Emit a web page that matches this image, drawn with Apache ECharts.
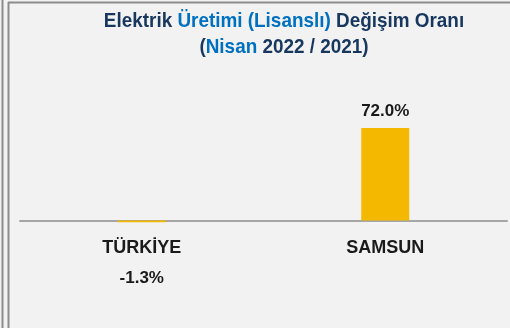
<!DOCTYPE html>
<html>
<head>
<meta charset="utf-8">
<script src="https://cdn.jsdelivr.net/npm/echarts@6/dist/echarts.min.js"></script>
<style>
  html, body { margin: 0; padding: 0; background: #f2f2f2; }
  #chart { width: 510px; height: 328px; }
</style>
</head>
<body>
<div id="chart"></div>
<script>
// Change in licensed electricity generation, April 2022 vs 2021
const regions = ['TÜRKİYE', 'SAMSUN'];
const changePct = [-1.3, 72.0];

const NAVY = '#17375e';
const BLUE = '#0070c0';
const INK = '#1a1a1a';
const FONT = '"Liberation Sans", Arial, sans-serif';

const chart = echarts.init(document.getElementById('chart'), null, { renderer: 'canvas' });

const barData = changePct.map(v => ({
  value: v,
  label: v >= 0
    ? { position: 'top', distance: 8 }
    : { position: 'bottom', distance: 48 }
}));

// title lines are drawn slightly condensed
const titleRich = {
  n: { fill: NAVY, fontFamily: FONT, fontWeight: 'bold', fontSize: 21 },
  b: { fill: BLUE, fontFamily: FONT, fontWeight: 'bold', fontSize: 21 }
};

chart.setOption({
  backgroundColor: '#f2f2f2',
  animation: false,
  // the grid bottom sits on the zero line; the negative bar is drawn unclipped below it
  grid: { left: 20, right: 3, top: 117.7, bottom: 107.5, containLabel: false },
  xAxis: {
    type: 'category',
    data: regions,
    axisLine: { onZero: false, lineStyle: { color: '#a6a6a6', width: 2 } },
    axisTick: { show: false },
    axisLabel: {
      color: INK, fontFamily: FONT, fontWeight: 'bold', fontSize: 18, margin: 19
    }
  },
  yAxis: {
    type: 'value',
    min: 0, max: 80, interval: 20,
    show: false,
    splitLine: { show: false }
  },
  series: [{
    type: 'bar',
    data: barData,
    barWidth: 48,
    clip: false,
    z: 1,
    itemStyle: { color: '#f4b800' },
    label: {
      show: true,
      color: INK, fontFamily: FONT, fontWeight: 'bold', fontSize: 17,
      formatter: p => p.value.toFixed(1) + '%'
    }
  }],
  graphic: [
    // frame lines
    { type: 'line', shape: { x1: 2.5, y1: 0, x2: 2.5, y2: 328 }, style: { stroke: '#8c8c8c', lineWidth: 2 } },
    { type: 'line', shape: { x1: 8.5, y1: 2, x2: 8.5, y2: 328 }, style: { stroke: '#8c8c8c', lineWidth: 2 } },
    { type: 'line', shape: { x1: 8, y1: 2.5, x2: 510, y2: 2.5 }, style: { stroke: '#8c8c8c', lineWidth: 2 } },
    {
      type: 'text',
      x: 284, y: 21, scaleX: 0.9,
      style: {
        text: '{n|Elektrik }{b|Üretimi (Lisanslı)}{n| Değişim Oranı}',
        align: 'center', verticalAlign: 'middle',
        rich: titleRich
      }
    },
    {
      type: 'text',
      x: 284, y: 47, scaleX: 0.9,
      style: {
        text: '{n|(}{b|Nisan}{n| 2022 / 2021)}',
        align: 'center', verticalAlign: 'middle',
        rich: titleRich
      }
    }
  ]
});
</script>
</body>
</html>
